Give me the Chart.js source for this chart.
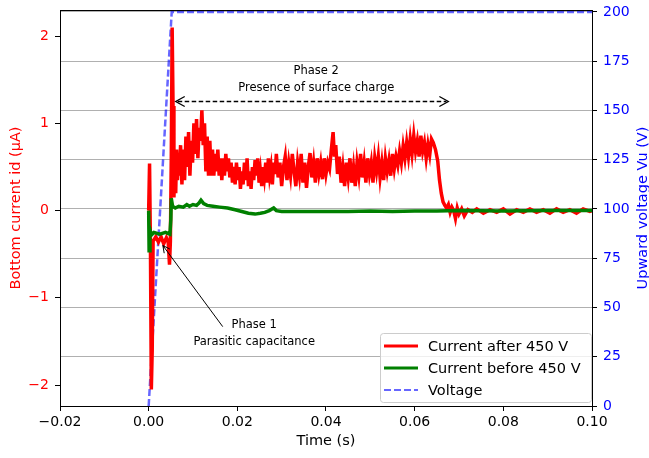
<!DOCTYPE html>
<html>
<head>
<meta charset="utf-8">
<script src="https://cdn.jsdelivr.net/npm/chart.js@4.4.1/dist/chart.umd.min.js"></script>
<style>
  html, body { margin: 0; padding: 0; background: #fff; }
  canvas { display: block; }
</style>
</head>
<body>
<canvas id="chart" width="649" height="458"></canvas>
<script>
// Bottom current after 450 V (µA) vs time (s)
const afterTime = [
  0.0000, 0.0002, 0.0004, 0.0006, 0.0008, 0.0010, 0.0016, 0.0022, 0.0028, 0.0034,
  0.0040, 0.0044, 0.0047, 0.0049, 0.0051, 0.0053, 0.0055, 0.0057, 0.0059, 0.0061,
  0.0063, 0.0065, 0.0067, 0.0069, 0.0072, 0.0075, 0.0078, 0.0081, 0.0084, 0.0087,
  0.0090, 0.0093, 0.0096, 0.0099, 0.0102, 0.0105, 0.0108, 0.0111, 0.0114, 0.0117,
  0.0120, 0.0123, 0.0126, 0.0129, 0.0132, 0.0135, 0.0138, 0.0141, 0.0144, 0.0147,
  0.0150, 0.0153, 0.0156, 0.0159, 0.0162, 0.0165, 0.0168, 0.0171, 0.0174, 0.0177,
  0.0180, 0.0183, 0.0186, 0.0189, 0.0192, 0.0195, 0.0198, 0.0201, 0.0204, 0.0207,
  0.0210, 0.0213, 0.0216, 0.0219, 0.0222, 0.0225, 0.0228, 0.0231, 0.0234, 0.0237,
  0.0240, 0.0243, 0.0246, 0.0249, 0.0252, 0.0255, 0.0258, 0.0261, 0.0264, 0.0267,
  0.0270, 0.0273, 0.0276, 0.0279, 0.0282, 0.0285, 0.0288, 0.0292, 0.0296, 0.0300,
  0.0304, 0.0308, 0.0312, 0.0316, 0.0320, 0.0324, 0.0328, 0.0332, 0.0336, 0.0340,
  0.0344, 0.0348, 0.0352, 0.0356, 0.0360, 0.0364, 0.0368, 0.0372, 0.0376, 0.0380,
  0.0384, 0.0388, 0.0392, 0.0396, 0.0400, 0.0404, 0.0408, 0.0412, 0.0416, 0.0419,
  0.0422, 0.0426, 0.0430, 0.0434, 0.0438, 0.0442, 0.0446, 0.0450, 0.0454, 0.0458,
  0.0462, 0.0466, 0.0470, 0.0474, 0.0478, 0.0482, 0.0486, 0.0490, 0.0494, 0.0498,
  0.0502, 0.0506, 0.0510, 0.0514, 0.0518, 0.0522, 0.0526, 0.0530, 0.0534, 0.0538,
  0.0542, 0.0546, 0.0550, 0.0554, 0.0558, 0.0562, 0.0566, 0.0570, 0.0574, 0.0578,
  0.0582, 0.0586, 0.0590, 0.0594, 0.0598, 0.0602, 0.0606, 0.0610, 0.0614, 0.0618,
  0.0622, 0.0626, 0.0630, 0.0634, 0.0638, 0.0642, 0.0647, 0.0652, 0.0656, 0.0660,
  0.0664, 0.0668, 0.0672, 0.0676, 0.0680, 0.0684, 0.0688, 0.0692, 0.0696, 0.0700,
  0.0706, 0.0712, 0.0720, 0.0730, 0.0740, 0.0755, 0.0770, 0.0785, 0.0800, 0.0815,
  0.0830, 0.0845, 0.0860, 0.0875, 0.0890, 0.0905, 0.0920, 0.0935, 0.0950, 0.0965,
  0.0980, 0.0995, 0.1000
];
const afterCurrent = [
  0.00, 0.54, -0.40, -2.05, -1.60, -0.35, -0.30, -0.36, -0.30, -0.38,
  -0.31, -0.36, -0.62, -0.35, 0.60, 2.10, 1.20, 0.15, 0.55, 0.20,
  0.70, 0.35, 0.60, 0.40, 0.75, 0.30, 0.70, 0.35, 0.85, 0.50,
  0.90, 0.40, 0.80, 0.55, 1.00, 0.65, 1.05, 0.60, 0.95, 0.80,
  1.15, 0.75, 1.00, 0.45, 0.85, 0.40, 0.80, 0.40, 0.70, 0.40,
  0.65, 0.45, 0.70, 0.40, 0.60, 0.35, 0.60, 0.40, 0.65, 0.45,
  0.60, 0.38, 0.55, 0.32, 0.50, 0.30, 0.55, 0.35, 0.50, 0.25,
  0.45, 0.30, 0.55, 0.35, 0.60, 0.28, 0.45, 0.25, 0.50, 0.35,
  0.58, 0.40, 0.60, 0.32, 0.45, 0.28, 0.50, 0.38, 0.55, 0.32,
  0.60, 0.40, 0.50, 0.30, 0.55, 0.42, 0.65, 0.38, 0.55, 0.28,
  0.50, 0.62, 0.35, 0.55, 0.40, 0.65, 0.45, 0.28, 0.55, 0.40,
  0.65, 0.32, 0.55, 0.26, 0.50, 0.66, 0.38, 0.55, 0.32, 0.60,
  0.42, 0.55, 0.36, 0.60, 0.42, 0.55, 0.48, 0.70, 0.90, 0.62,
  0.75, 0.42, 0.62, 0.32, 0.50, 0.28, 0.55, 0.38, 0.60, 0.32,
  0.50, 0.28, 0.55, 0.40, 0.65, 0.38, 0.55, 0.32, 0.60, 0.42,
  0.55, 0.32, 0.60, 0.45, 0.62, 0.38, 0.55, 0.35, 0.60, 0.45,
  0.58, 0.40, 0.65, 0.48, 0.62, 0.52, 0.68, 0.55, 0.74, 0.60,
  0.78, 0.62, 0.82, 0.65, 0.86, 0.68, 0.80, 0.62, 0.86, 0.68,
  0.78, 0.60, 0.76, 0.64, 0.82, 0.78, 0.70, 0.57, 0.35, 0.20,
  0.10, 0.06, 0.03, 0.07, -0.02, 0.04, 0.00, -0.09, 0.03, -0.04,
  0.02, -0.06, 0.01, -0.02, 0.02, -0.03, 0.01, -0.02, 0.02, -0.04,
  0.01, -0.02, 0.02, -0.02, 0.01, -0.03, 0.02, -0.02, 0.01, -0.03,
  0.02, -0.01, 0.00
];

// Bottom current before 450 V (µA)
const beforeTime = [
  0.0000, 0.0001, 0.0003, 0.0006, 0.0012, 0.0025, 0.0038, 0.0048, 0.0050, 0.0051,
  0.0054, 0.0060, 0.0068, 0.0078, 0.0086, 0.0092, 0.0100, 0.0108, 0.0114, 0.0118,
  0.0124, 0.0132, 0.0145, 0.0160, 0.0178, 0.0195, 0.0210, 0.0225, 0.0240, 0.0252,
  0.0262, 0.0272, 0.0282, 0.0288, 0.0300, 0.0350, 0.0400, 0.0450, 0.0500, 0.0550,
  0.0600, 0.0650, 0.0700, 0.0800, 0.0900, 0.1000
];
const beforeCurrent = [
  0.00, -0.46, -0.22, -0.28, -0.25, -0.27, -0.25, -0.27, -0.10, 0.14,
  0.05, 0.03, 0.05, 0.04, 0.07, 0.05, 0.07, 0.06, 0.09, 0.12,
  0.08, 0.06, 0.05, 0.04, 0.03, 0.01, -0.01, -0.03, -0.04, -0.03,
  -0.02, 0.00, 0.03, 0.00, -0.01, -0.01, -0.01, -0.01, -0.005, -0.01,
  -0.005, -0.005, 0.00, -0.005, 0.00, 0.00
];

// Upward voltage (V)
const voltTime = [0.0000, 0.0052, 0.1000];
const voltValue = [0, 200, 200];

// Tick values
const timeTicks = [-0.02, 0.00, 0.02, 0.04, 0.06, 0.08, 0.10];
const currentTicks = [-2, -1, 0, 1, 2];
const voltageTicks = [0, 25, 50, 75, 100, 125, 150, 175, 200];

const FONT = 'DejaVu Sans';
const MINUS = '\u2212';
const fmt = (v, d) => {
  if (Math.abs(v) < 1e-9) v = 0;
  const s = v.toFixed(d);
  return s.replace('-', MINUS);
};
const toPoints = (xs, ys) => xs.map((x, i) => ({ x, y: ys[i] }));

// Annotation anchors in data units (time, current)
const phase2 = { from: 0.0061, to: 0.0676, level: 1.26, textAt: 0.0378, line1: 1.60, line2: 1.41 };
const phase1 = { textAt: 0.0238, line1: -1.31, line2: -1.51, tail: [0.0167, -1.33], head: [0.0032, -0.40] };

function openHead(ctx, tx, ty, fx, fy, len, half) {
  const ang = Math.atan2(ty - fy, tx - fx);
  ctx.beginPath();
  ctx.moveTo(tx - len * Math.cos(ang) + half * Math.sin(ang), ty - len * Math.sin(ang) - half * Math.cos(ang));
  ctx.lineTo(tx, ty);
  ctx.lineTo(tx - len * Math.cos(ang) - half * Math.sin(ang), ty - len * Math.sin(ang) + half * Math.cos(ang));
  ctx.stroke();
}

const decorations = {
  id: 'decorations',
  afterDraw(chart) {
    const { ctx, chartArea: a, scales } = chart;
    const sx = scales.x, sy = scales.y;
    ctx.save();

    // top spine
    ctx.strokeStyle = '#000';
    ctx.lineWidth = 1;
    ctx.beginPath();
    ctx.moveTo(a.left, a.top + 0.5);
    ctx.lineTo(a.right, a.top + 0.5);
    ctx.stroke();

    // axis titles
    ctx.font = `14.5px "${FONT}"`;
    ctx.textBaseline = 'alphabetic';
    ctx.textAlign = 'center';
    ctx.fillStyle = '#000';
    ctx.fillText('Time (s)', (a.left + a.right) / 2, 445);
    const cy = (a.top + a.bottom) / 2;
    ctx.save();
    ctx.translate(20, cy);
    ctx.rotate(-Math.PI / 2);
    ctx.fillStyle = '#ff0000';
    ctx.fillText('Bottom current id (µA)', 0, 0);
    ctx.restore();
    ctx.save();
    ctx.translate(647, cy);
    ctx.rotate(-Math.PI / 2);
    ctx.fillStyle = '#0000ff';
    ctx.fillText('Upward voltage Vu (V)', 0, 0);
    ctx.restore();

    // Phase 2 annotation
    ctx.font = `11.5px "${FONT}"`;
    ctx.fillStyle = '#000';
    ctx.textBaseline = 'middle';
    ctx.fillText('Phase 2', sx.getPixelForValue(phase2.textAt), sy.getPixelForValue(phase2.line1));
    ctx.fillText('Presence of surface charge', sx.getPixelForValue(phase2.textAt), sy.getPixelForValue(phase2.line2));
    const x1 = sx.getPixelForValue(phase2.from), x2 = sx.getPixelForValue(phase2.to);
    const ya = Math.round(sy.getPixelForValue(phase2.level)) + 0.5;
    ctx.strokeStyle = '#000';
    ctx.lineWidth = 1.3;
    ctx.setLineDash([4.5, 2.5]);
    ctx.beginPath();
    ctx.moveTo(x1 + 2, ya);
    ctx.lineTo(x2 - 2, ya);
    ctx.stroke();
    ctx.setLineDash([]);
    openHead(ctx, x1, ya, x2, ya, 9, 5);
    openHead(ctx, x2, ya, x1, ya, 9, 5);

    // Phase 1 annotation
    ctx.fillText('Phase 1', sx.getPixelForValue(phase1.textAt), sy.getPixelForValue(phase1.line1));
    ctx.fillText('Parasitic capacitance', sx.getPixelForValue(phase1.textAt), sy.getPixelForValue(phase1.line2));
    const tx = sx.getPixelForValue(phase1.tail[0]), ty = sy.getPixelForValue(phase1.tail[1]);
    const hx = sx.getPixelForValue(phase1.head[0]), hy = sy.getPixelForValue(phase1.head[1]);
    ctx.lineWidth = 1;
    ctx.beginPath();
    ctx.moveTo(tx, ty);
    ctx.lineTo(hx, hy);
    ctx.stroke();
    openHead(ctx, hx, hy, tx, ty, 7, 3.5);

    // legend box, lower right
    const lx = a.right - 212, ly = a.bottom - 73, lw = 211, lh = 69;
    ctx.beginPath();
    ctx.roundRect(lx + 0.5, ly + 0.5, lw, lh, 3);
    ctx.fillStyle = 'rgba(255,255,255,0.8)';
    ctx.fill();
    ctx.strokeStyle = '#cccccc';
    ctx.lineWidth = 1;
    ctx.stroke();
    const rows = [
      { label: 'Current after 450 V', color: '#ff0000', width: 3, dash: [] },
      { label: 'Current before 450 V', color: '#008000', width: 3, dash: [] },
      { label: 'Voltage', color: 'rgba(0,0,255,0.6)', width: 2, dash: [7, 3] }
    ];
    ctx.font = `14.5px "${FONT}"`;
    ctx.textAlign = 'left';
    rows.forEach((r, i) => {
      const ry = ly + 13 + i * 22;
      ctx.strokeStyle = r.color;
      ctx.lineWidth = r.width;
      ctx.setLineDash(r.dash);
      ctx.beginPath();
      ctx.moveTo(lx + 4, ry);
      ctx.lineTo(lx + 38, ry);
      ctx.stroke();
      ctx.setLineDash([]);
      ctx.fillStyle = '#000';
      ctx.fillText(r.label, lx + 48, ry + 1);
    });

    ctx.restore();
  }
};

const tickFont = { family: FONT, size: 14 };
// small lineHeight keeps the top label from pushing the plot area down
const yTickFont = { family: FONT, size: 14, lineHeight: 0.5 };

new Chart(document.getElementById('chart'), {
  type: 'line',
  data: {
    datasets: [
      {
        label: 'Current before 450 V',
        data: toPoints(beforeTime, beforeCurrent),
        borderColor: '#008000', borderWidth: 3.5,
        pointRadius: 0, tension: 0, yAxisID: 'y', order: 0
      },
      {
        label: 'Current after 450 V',
        data: toPoints(afterTime, afterCurrent),
        borderColor: '#ff0000', borderWidth: 3.5,
        pointRadius: 0, tension: 0, yAxisID: 'y', order: 1
      },
      {
        label: 'Voltage',
        data: toPoints(voltTime, voltValue),
        borderColor: 'rgba(0,0,255,0.6)', borderWidth: 2.5, borderDash: [7, 3],
        pointRadius: 0, tension: 0, yAxisID: 'y2', order: 2
      }
    ]
  },
  options: {
    responsive: false,
    animation: false,
    devicePixelRatio: 1,
    layout: { padding: { top: 10, left: 0, right: 0, bottom: 0 } },
    plugins: { legend: { display: false }, tooltip: { enabled: false } },
    scales: {
      x: {
        type: 'linear', min: -0.02, max: 0.10,
        afterBuildTicks: s => { s.ticks = timeTicks.map(value => ({ value })); },
        afterFit: s => { s.height = 52; },
        grid: { drawOnChartArea: false, tickLength: 5, tickColor: '#000', tickWidth: 1 },
        border: { color: '#000', width: 1 },
        ticks: { color: '#000', font: tickFont, padding: 3, maxRotation: 0, autoSkip: false, callback: v => fmt(v, 2) }
      },
      y: {
        type: 'linear', position: 'left', min: -2.24, max: 2.30,
        afterBuildTicks: s => { s.ticks = currentTicks.map(value => ({ value })); },
        afterFit: s => { s.width = 60; },
        grid: { drawOnChartArea: false, tickLength: 5, tickColor: '#000', tickWidth: 1 },
        border: { color: '#000', width: 1 },
        ticks: { color: '#ff0000', font: yTickFont, padding: 6, callback: v => fmt(v, 0) }
      },
      y2: {
        type: 'linear', position: 'right', min: 0, max: 201,
        afterBuildTicks: s => { s.ticks = voltageTicks.map(value => ({ value })); },
        afterFit: s => { s.width = 57; },
        grid: { drawOnChartArea: true, color: '#b0b0b0', lineWidth: 1, tickLength: 5, tickColor: '#000', tickWidth: 1 },
        border: { color: '#000', width: 1 },
        ticks: { color: '#0000ff', font: yTickFont, padding: 6, callback: v => String(v) }
      }
    }
  },
  plugins: [decorations]
});
</script>
</body>
</html>
